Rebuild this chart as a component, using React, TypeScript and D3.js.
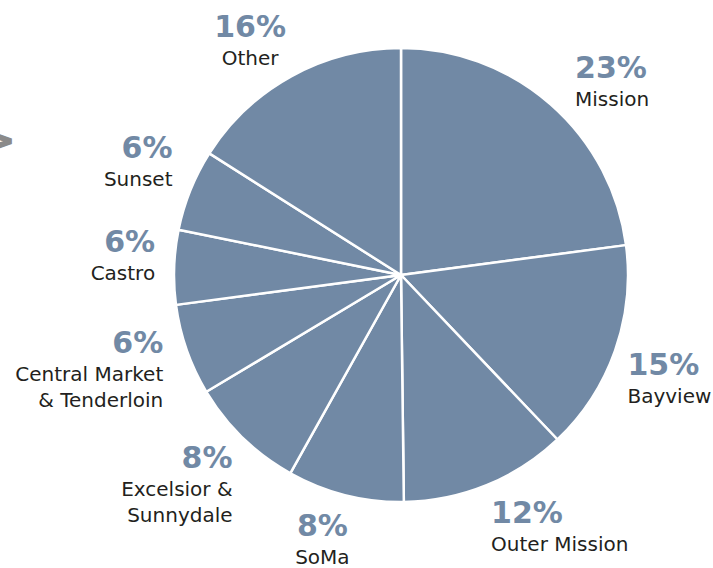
import React, { useEffect, useRef } from 'react';
import * as d3 from 'd3';

const WIDTH = 713;
const HEIGHT = 568;
const CX = 401;
const CY = 275;
const RADIUS = 227;
const LABEL_R = 255;

// neighbourhood shares, read clockwise from 12 o'clock
const names = [
  ['Mission'],
  ['Bayview'],
  ['Outer Mission'],
  ['SoMa'],
  ['Excelsior &', 'Sunnydale'],
  ['Central Market', '& Tenderloin'],
  ['Castro'],
  ['Sunset'],
  ['Other'],
];
const shares = [22.9, 15.0, 11.9, 8.3, 8.3, 6.5, 5.3, 5.8, 16.0];
const pctLabels = ['23%', '15%', '12%', '8%', '8%', '6%', '6%', '6%', '16%'];

// hand nudges for the label blocks (dx, dy)
const nudges = [
  [6, -5],
  [-14, 15],
  [-6, 12],
  [-16, 14],
  [9, 10],
  [3, -6],
  [9, -14],
  [8, -22],
  [-28, -15],
];

const BLUE = '#7189a5';
const INK = '#231f20';

export default function App() {
  const svgRef = useRef<SVGSVGElement>(null);

  useEffect(() => {
    if (!svgRef.current) return;
    svgRef.current.innerHTML = '';
    const svg = d3.select(svgRef.current);

    const data = shares.map((v, i) => ({ v, i }));
    const arcs = d3
      .pie<{ v: number; i: number }>()
      .sort(null)
      .value((d) => d.v)(data);

    const arc = d3
      .arc<d3.PieArcDatum<{ v: number; i: number }>>()
      .innerRadius(0)
      .outerRadius(RADIUS);

    const g = svg.append('g').attr('transform', `translate(${CX},${CY})`);

    g.selectAll('path')
      .data(arcs)
      .join('path')
      .attr('d', (d) => arc(d))
      .attr('fill', BLUE)
      .attr('stroke', '#fff')
      .attr('stroke-width', 2.5)
      .attr('stroke-linejoin', 'round');

    const labels = g
      .selectAll('g.lbl')
      .data(arcs)
      .join('g')
      .attr('class', 'lbl')
      .attr('transform', (d) => {
        const a = (d.startAngle + d.endAngle) / 2;
        const [nx, ny] = nudges[d.data.i];
        const x = LABEL_R * Math.sin(a) + nx;
        const y = -LABEL_R * Math.cos(a) + ny;
        return `translate(${x},${y})`;
      });

    const anchorOf = (d) => {
      const s = Math.sin((d.startAngle + d.endAngle) / 2);
      if (d.data.i === 8 || d.data.i === 3) return 'middle';
      return s > 0 ? 'start' : 'end';
    };

    labels
      .append('text')
      .attr('text-anchor', anchorOf)
      .attr('font-family', 'DejaVu Sans, sans-serif')
      .attr('font-weight', 'bold')
      .attr('font-size', 30)
      .attr('fill', BLUE)
      .text((d) => pctLabels[d.data.i]);

    labels.each(function (d) {
      const sel = d3.select(this);
      names[d.data.i].forEach((line, k) => {
        sel
          .append('text')
          .attr('text-anchor', anchorOf(d))
          .attr('y', 28 + k * 26)
          .attr('font-family', 'DejaVu Sans, sans-serif')
          .attr('font-size', 20)
          .attr('fill', INK)
          .text(line);
      });
    });

    // cut-off chevron at the left edge
    svg
      .append('text')
      .attr('x', 15)
      .attr('y', 153)
      .attr('text-anchor', 'end')
      .attr('font-family', 'DejaVu Sans, sans-serif')
      .attr('font-weight', 'bold')
      .attr('font-size', 38)
      .attr('fill', '#8a8a8a')
      .attr('stroke', '#8a8a8a')
      .attr('stroke-width', 1.5)
      .text('>');
  }, []);

  return (
    <svg
      ref={svgRef}
      width={WIDTH}
      height={HEIGHT}
      style={{ position: 'absolute', left: 0, top: 0, background: '#fff' }}
    />
  );
}
